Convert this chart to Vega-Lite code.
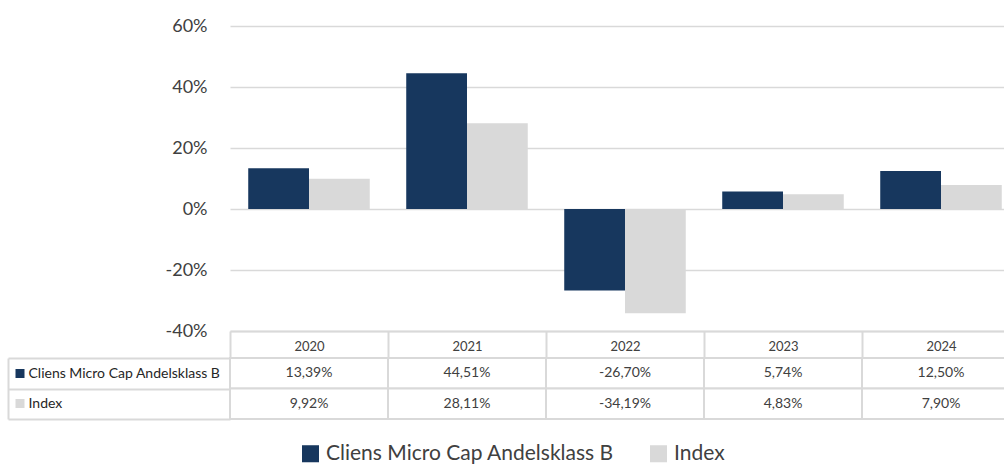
{
  "$schema": "https://vega.github.io/schema/vega-lite/v6.json",
  "padding": {"left": 7, "top": 17, "right": 0, "bottom": 0},
  "bounds": "flush",
  "spacing": 27,
  "config": {
    "locale": {"number": {"decimal": ",", "thousands": " ", "grouping": [3], "currency": ["", " kr"], "minus": "-"}},
    "font": "Lato",
    "view": {"stroke": null},
    "axis": {"labelFont": "Lato", "labelColor": "#404040"},
    "legend": {"labelFont": "Lato"}
  },
  "datasets": {
    "returns": [
      {"year": "2020", "series": "Cliens Micro Cap Andelsklass B", "value": 0.1339},
      {"year": "2021", "series": "Cliens Micro Cap Andelsklass B", "value": 0.4451},
      {"year": "2022", "series": "Cliens Micro Cap Andelsklass B", "value": -0.2670},
      {"year": "2023", "series": "Cliens Micro Cap Andelsklass B", "value": 0.0574},
      {"year": "2024", "series": "Cliens Micro Cap Andelsklass B", "value": 0.1250},
      {"year": "2020", "series": "Index", "value": 0.0992},
      {"year": "2021", "series": "Index", "value": 0.2811},
      {"year": "2022", "series": "Index", "value": -0.3419},
      {"year": "2023", "series": "Index", "value": 0.0483},
      {"year": "2024", "series": "Index", "value": 0.0790}
    ]
  },
  "vconcat": [
    {
      "width": 790,
      "height": 305,
      "data": {"name": "returns"},
      "mark": {"type": "bar"},
      "encoding": {
        "x": {
          "field": "year", "type": "nominal",
          "scale": {"paddingInner": 0, "paddingOuter": 0},
          "axis": {
            "orient": "bottom", "title": null, "labelAngle": 0,
            "domainColor": "#d9d9d9", "domainWidth": 2,
            "tickBand": "extent", "tickSize": 27, "tickColor": "#d9d9d9", "tickWidth": 2,
            "labelBaseline": "middle", "labelPadding": -12, "labelFontSize": 13
          }
        },
        "xOffset": {
          "field": "series", "type": "nominal",
          "sort": ["Cliens Micro Cap Andelsklass B", "Index"],
          "scale": {"paddingInner": 0, "paddingOuter": 0.3}
        },
        "y": {
          "field": "value", "type": "quantitative",
          "scale": {"domain": [-0.4, 0.6], "nice": false, "zero": false},
          "axis": {
            "values": [-0.4, -0.2, 0, 0.2, 0.4, 0.6], "format": ".0%", "title": null,
            "grid": true, "gridColor": "#d9d9d9", "gridWidth": 1.5,
            "domain": false, "ticks": false, "labelPadding": 23, "labelFontSize": 18
          }
        },
        "color": {
          "field": "series", "type": "nominal",
          "sort": ["Cliens Micro Cap Andelsklass B", "Index"],
          "scale": {"range": ["#17375e", "#d9d9d9"]},
          "legend": {
            "orient": "none", "legendX": 70, "legendY": 417,
            "title": null, "direction": "horizontal",
            "symbolType": "square", "symbolSize": 290, "symbolStrokeWidth": 0,
            "labelFontSize": 21, "labelColor": "#404040", "labelOffset": 5,
            "columnPadding": 34, "labelLimit": 400
          }
        }
      }
    },
    {
      "width": 790,
      "height": 61,
      "data": {"name": "returns"},
      "encoding": {
        "x": {"field": "year", "type": "nominal", "scale": {"paddingInner": 0, "paddingOuter": 0}, "axis": null}
      },
      "layer": [
        {
          "mark": {"type": "rect", "fill": "white", "stroke": "#d9d9d9", "strokeWidth": 2},
          "encoding": {
            "y": {
              "field": "series", "type": "nominal",
              "sort": ["Cliens Micro Cap Andelsklass B", "Index"],
              "scale": {"paddingInner": 0, "paddingOuter": 0},
              "axis": {
                "orient": "left", "title": null, "domain": false,
                "tickBand": "extent", "tickSize": 222, "tickWidth": 2, "tickColor": "#d9d9d9",
                "labelAlign": "left", "labelPadding": -20, "labelFontSize": 14, "labelColor": "#262626", "labelLimit": 300
              }
            }
          }
        },
        {
          "mark": {"type": "text", "fontSize": 14, "color": "#404040", "font": "Lato"},
          "encoding": {
            "y": {
              "field": "series", "type": "nominal",
              "sort": ["Cliens Micro Cap Andelsklass B", "Index"],
              "axis": {
                "orient": "left", "title": null, "offset": 222,
                "domain": true, "domainColor": "#d9d9d9", "domainWidth": 2,
                "labels": false, "ticks": false
              }
            },
            "text": {"field": "value", "type": "quantitative", "format": ".2%"}
          }
        },
        {
          "mark": {"type": "rect", "opacity": 0},
          "encoding": {
            "y": {
              "field": "series", "type": "nominal",
              "sort": ["Cliens Micro Cap Andelsklass B", "Index"],
              "axis": {
                "orient": "left", "title": null, "offset": 206,
                "domain": false, "labels": false, "ticks": true,
                "tickSize": 9, "tickWidth": 9,
                "tickColor": {"condition": {"test": "datum.value === 'Index'", "value": "#d9d9d9"}, "value": "#17375e"}
              }
            }
          }
        }
      ],
      "resolve": {"axis": {"y": "independent"}}
    }
  ]
}
